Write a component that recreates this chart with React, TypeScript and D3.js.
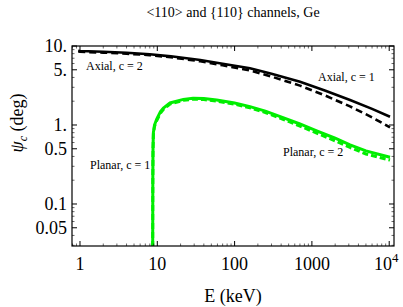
import React from 'react';
import * as d3 from 'd3';

const title = '<110> and {110} channels, Ge';
const xTicks = [1, 10, 100, 1000, 10000];
const xTickLabels = ['1', '10', '100', '1000', '10^4'];
const yTicks = [0.05, 0.1, 0.5, 1, 5, 10];
const yTickLabels = ['0.05', '0.1', '0.5', '1.', '5.', '10.'];

// Axial (black)
const axialSolidE = [0.95, 1, 2, 4, 8, 15, 36, 70, 158, 300, 702, 1500, 3112, 6000, 10240];
const axialSolidPsi = [8.7, 8.65, 8.45, 8.2, 7.85, 7.4, 6.66, 5.95, 5.22, 4.45, 3.53, 2.72, 2.07, 1.6, 1.27];
const axialDashE = [0.95, 1, 2, 4, 8, 15, 36, 70, 158, 300, 702, 1500, 3112, 6000, 10240];
const axialDashPsi = [8.5, 8.45, 8.25, 8.0, 7.65, 7.2, 6.4, 5.7, 4.9, 4.1, 3.15, 2.35, 1.72, 1.25, 0.93];

// Planar (green)
const planarSolidE = [8.7, 8.75, 8.8, 8.9, 9.2, 9.8, 11, 12, 14.6, 21.7, 29, 40, 58.6, 100, 158, 250, 423, 700, 1153, 2000, 3112, 5000, 10240];
const planarSolidPsi = [0.01, 0.2, 0.5, 0.8, 1.0, 1.18, 1.48, 1.64, 1.9, 2.11, 2.18, 2.16, 2.07, 1.9, 1.71, 1.5, 1.24, 1.03, 0.84, 0.68, 0.56, 0.47, 0.39];
const planarDashE = [8.7, 8.75, 8.8, 8.9, 9.2, 9.8, 11, 12, 14.6, 21.7, 29, 40, 58.6, 100, 158, 250, 423, 700, 1153, 2000, 3112, 5000, 10240];
const planarDashPsi = [0.01, 0.2, 0.48, 0.77, 0.96, 1.13, 1.42, 1.58, 1.84, 2.05, 2.12, 2.1, 2.01, 1.84, 1.65, 1.44, 1.18, 0.97, 0.79, 0.63, 0.52, 0.43, 0.36];

const W = 403, H = 307;
const L = 72, R = 394, T = 46, B = 246;
const GREEN = '#00ee00';
const ts = { fontFamily: "'Times New Roman'" };

export default function App() {
  const x = d3.scaleLog().domain([0.788, 11535]).range([L, R]);
  const y = d3.scaleLog().domain([0.0294, 10]).range([B, T]);
  const line = d3.line<[number, number]>().x(d => x(d[0])).y(d => y(d[1]));
  const mk = (es: number[], vs: number[]) => line(es.map((e, i) => [e, vs[i]] as [number, number])) || '';

  const xMinor: number[] = [];
  for (let dec = 0.1; dec <= 10000; dec *= 10) {
    for (let k = 2; k <= 9; k++) {
      const v = dec * k;
      if (v > 0.788 && v < 11535) xMinor.push(v);
    }
  }
  const yMinor: number[] = [];
  for (let dec = 0.01; dec <= 1; dec *= 10) {
    for (let k = 2; k <= 9; k++) {
      const v = dec * k;
      if (k === 5) continue;
      if (v > 0.0294 && v < 10) yMinor.push(v);
    }
  }

  return (
    <svg width={W} height={H} style={{ position: 'absolute', left: 0, top: 0 }}>
      <defs>
        <clipPath id="frame">
          <rect x={L} y={T} width={R - L} height={B - T} />
        </clipPath>
      </defs>
      <rect x={0} y={0} width={W} height={H} fill="#fff" />
      <text x={233} y={17} textAnchor="middle" fontSize={14} fill="#000" style={ts}>{title}</text>

      <g clipPath="url(#frame)" fill="none">
        <path d={mk(axialSolidE, axialSolidPsi)} stroke="#000" strokeWidth={2.6} />
        <path d={mk(axialDashE, axialDashPsi)} stroke="#000" strokeWidth={2.6} strokeDasharray="7,4" />
        <path d={mk(planarSolidE, planarSolidPsi)} stroke={GREEN} strokeWidth={3} />
        <path d={mk(planarDashE, planarDashPsi)} stroke={GREEN} strokeWidth={3} strokeDasharray="6,3" />
      </g>

      <rect x={L} y={T} width={R - L} height={B - T} fill="none" stroke="#000" strokeWidth={1.2} />

      <g stroke="#000" strokeWidth={1}>
        {xTicks.map(t => (
          <g key={'xt' + t}>
            <line x1={x(t)} x2={x(t)} y1={B} y2={B - 5} />
            <line x1={x(t)} x2={x(t)} y1={T} y2={T + 5} />
          </g>
        ))}
        {xMinor.map(t => (
          <g key={'xm' + t}>
            <line x1={x(t)} x2={x(t)} y1={B} y2={B - 2.5} strokeWidth={0.6} />
            <line x1={x(t)} x2={x(t)} y1={T} y2={T + 2.5} strokeWidth={0.6} />
          </g>
        ))}
        {yTicks.map(t => (
          <g key={'yt' + t}>
            <line x1={L} x2={L + 5} y1={y(t)} y2={y(t)} />
            <line x1={R} x2={R - 5} y1={y(t)} y2={y(t)} />
          </g>
        ))}
        {yMinor.map(t => (
          <g key={'ym' + t}>
            <line x1={L} x2={L + 2.5} y1={y(t)} y2={y(t)} strokeWidth={0.6} />
            <line x1={R} x2={R - 2.5} y1={y(t)} y2={y(t)} strokeWidth={0.6} />
          </g>
        ))}
      </g>

      {xTicks.map((t, i) => xTickLabels[i] === '10^4' ? (
        <text key={'xl' + t} x={x(t) - 3} y={270} textAnchor="middle" fontSize={18} fill="#000" style={ts}>
          10<tspan dy={-8} fontSize={13}>4</tspan>
        </text>
      ) : (
        <text key={'xl' + t} x={x(t)} y={270} textAnchor="middle" fontSize={18} fill="#000" style={ts}>{xTickLabels[i]}</text>
      ))}
      {yTicks.map((t, i) => (
        <text key={'yl' + t} x={67} y={y(t) + 6} textAnchor="end" fontSize={18} fill="#000" style={ts}>{yTickLabels[i]}</text>
      ))}

      <text x={233} y={302} textAnchor="middle" fontSize={18} fill="#000" style={ts}>E (keV)</text>
      <text transform="translate(23,123) rotate(-90)" textAnchor="middle" fontSize={18} fill="#000" style={ts}>
        <tspan fontStyle="italic">ψ</tspan><tspan fontStyle="italic" fontSize={12} dy={4}>c</tspan><tspan dy={-4}> (deg)</tspan>
      </text>

      <text x={86} y={70} fontSize={12} fill="#000" style={ts}>Axial, c = 2</text>
      <text x={318} y={81} fontSize={12} fill="#000" style={ts}>Axial, c = 1</text>
      <text x={283} y={156} fontSize={12} fill="#000" style={ts}>Planar, c = 2</text>
      <text x={90} y={169} fontSize={12} fill="#000" style={ts}>Planar, c = 1</text>
    </svg>
  );
}
